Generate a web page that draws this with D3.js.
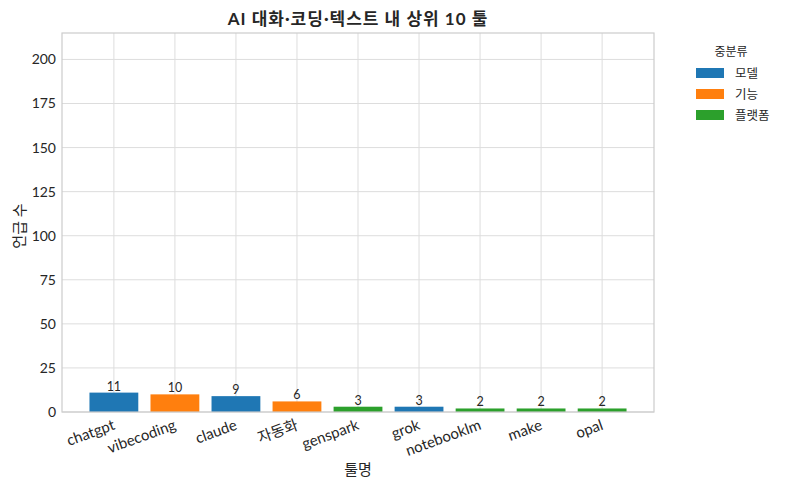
<!DOCTYPE html>
<html>
<head>
<meta charset="utf-8">
<script src="https://cdn.jsdelivr.net/npm/d3@7"></script>
<style>
  body { margin: 0; background: #fff; }
  svg text { font-family: Lato, "Noto Sans CJK KR", sans-serif; fill: #262626; }
</style>
</head>
<body>
<div id="chart"></div>
<script>
// data
var tools = ["chatgpt", "vibecoding", "claude", "자동화", "genspark", "grok", "notebooklm", "make", "opal"];
var counts = [11, 10, 9, 6, 3, 3, 2, 2, 2];
var groups = ["모델", "기능", "모델", "기능", "플랫폼", "모델", "플랫폼", "플랫폼", "플랫폼"];
var groupNames = ["모델", "기능", "플랫폼"];
var groupColors = ["#1f77b4", "#ff7f0e", "#2ca02c"];
var yTicks = [0, 25, 50, 75, 100, 125, 150, 175, 200];

var chartWidth = 788, chartHeight = 490;
var margin = {top: 33, right: 134, bottom: 78, left: 62};
var width = chartWidth - margin.left - margin.right,
    height = chartHeight - margin.top - margin.bottom;

var color = d3.scaleOrdinal().domain(groupNames).range(groupColors);

// categorical positions on a linear scale so the side padding matches
var xScale = d3.scaleLinear()
    .domain([-0.85, tools.length - 1 + 0.85])
    .range([0, width]);
var barW = (xScale(1) - xScale(0)) * 0.8;

var yScale = d3.scaleLinear()
    .domain([0, 215])
    .range([height, 0]);

var svg = d3.select("#chart").append("svg")
    .attr("width", chartWidth)
    .attr("height", chartHeight);

var g = svg.append("g")
    .attr("transform", "translate(" + margin.left + "," + margin.top + ")");

// grid
g.append("g").selectAll("line")
    .data(tools)
  .enter().append("line")
    .attr("x1", function(d, i) { return xScale(i); })
    .attr("x2", function(d, i) { return xScale(i); })
    .attr("y1", 0).attr("y2", height)
    .style("stroke", "#dddddd").style("stroke-width", 1);

g.append("g").selectAll("line")
    .data(yTicks)
  .enter().append("line")
    .attr("x1", 0).attr("x2", width)
    .attr("y1", function(d) { return yScale(d); })
    .attr("y2", function(d) { return yScale(d); })
    .style("stroke", "#dddddd").style("stroke-width", 1);

// bars
g.append("g").selectAll("rect")
    .data(tools)
  .enter().append("rect")
    .attr("x", function(d, i) { return xScale(i) - barW / 2; })
    .attr("width", barW)
    .attr("y", function(d, i) { return yScale(counts[i]); })
    .attr("height", function(d, i) { return height - yScale(counts[i]); })
    .style("fill", function(d, i) { return color(groups[i]); });

// value labels
g.append("g").selectAll("text")
    .data(tools)
  .enter().append("text")
    .attr("x", function(d, i) { return xScale(i); })
    .attr("y", function(d, i) { return yScale(counts[i]) - 2; })
    .attr("text-anchor", "middle")
    .style("font-size", "12.5px")
    .text(function(d, i) { return counts[i]; });

// frame
g.append("rect")
    .attr("width", width).attr("height", height)
    .style("fill", "none").style("stroke", "#cccccc").style("stroke-width", 1.2);

// y axis
var yAxis = g.append("g")
    .call(d3.axisLeft(yScale).tickValues(yTicks).tickSize(0).tickPadding(6));
yAxis.select(".domain").remove();
yAxis.selectAll("text").style("font-size", "14px").style("font-family", "Lato, sans-serif");

// x axis
var xAxis = g.append("g")
    .attr("transform", "translate(0," + height + ")")
    .call(d3.axisBottom(xScale).tickValues(d3.range(tools.length))
      .tickFormat(function(i) { return tools[i]; }).tickSize(0).tickPadding(0));
xAxis.select(".domain").remove();
xAxis.selectAll("text")
    .attr("y", 0).attr("dy", 0)
    .attr("text-anchor", "end")
    .attr("transform", "translate(1.5,17) rotate(-20)")
    .style("font-size", "15px");

// axis titles
svg.append("text")
    .attr("transform", "translate(" + (margin.left + width / 2) + ",475)")
    .attr("text-anchor", "middle")
    .style("font-size", "15px")
    .text("툴명");

svg.append("text")
    .attr("transform", "translate(25,226) rotate(-90)")
    .attr("text-anchor", "middle")
    .style("font-size", "15px")
    .text("언급 수");

// title
svg.append("text")
    .attr("x", margin.left + width / 2)
    .attr("y", 25)
    .attr("text-anchor", "middle")
    .style("font-size", "17px")
    .style("font-weight", "bold")
    .style("letter-spacing", "1px")
    .text("AI 대화·코딩·텍스트 내 상위 10 툴");

// legend
var legend = svg.append("g").attr("transform", "translate(696,68)");
legend.append("text")
    .attr("x", 35).attr("y", -12)
    .attr("text-anchor", "middle")
    .style("font-size", "12px")
    .text("중분류");
var items = legend.selectAll("g")
    .data(groupNames)
  .enter().append("g")
    .attr("transform", function(d, i) { return "translate(0," + (i * 21) + ")"; });
items.append("rect")
    .attr("width", 28).attr("height", 10)
    .style("fill", function(d) { return color(d); });
items.append("text")
    .attr("x", 39).attr("y", 10)
    .style("font-size", "12.5px")
    .text(function(d) { return d; });
</script>
</body>
</html>
